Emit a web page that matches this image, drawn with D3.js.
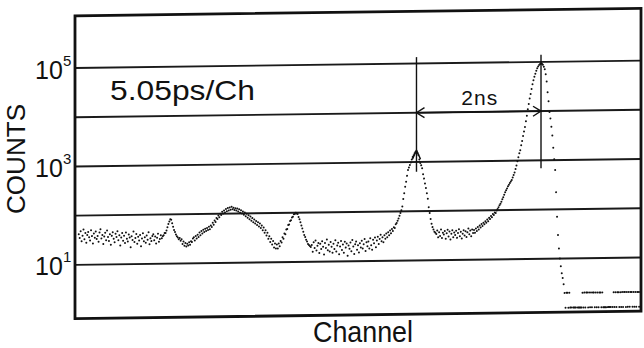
<!DOCTYPE html>
<html>
<head>
<meta charset="utf-8">
<script src="https://cdn.jsdelivr.net/npm/d3@7"></script>
<style>
  body { margin: 0; background: #fff; }
  text { font-family: "Liberation Sans", Arial, sans-serif; fill: #111; }
</style>
</head>
<body>
<div id="chart"></div>
<script>
// counts per channel, one value every 3 channels starting at channel 12
const counts = [
  42,35,48,30,39,52,33,44,28,40, 46,36,31,50,38,27,43,35,47,33,
  38,29,45,52,34,40,26,37,44,31, 49,36,30,41,25,38,45,33,28,42,
  36,47,31,39,24,35,43,30,38,27, 44,33,29,40,35,22,37,31,46,28,
  34,41,26,36,30,39,23,33,42,29, 35,27,38,31,44,25,33,29,37,40,
  30,36,26,34,41,28,32,38,33,36,38,42,
  42,47,55,64,72,80,78,66,56,48, 44,39,36,34,31,33,29,31,25,28,
  23,26,22,25,23,27,24,28,27,32,
  34,29,36,32,38,34,42,37,45,40, 48,43,50,45,52,47,55,49,58,54,
  66,60,73,68,82,78,92,85,100,94, 110,101,116,106,124,112,130,116,134,120,
  138,122,132,118,128,115,126,110,122,104, 116,100,110,94,104,88,98,82,92,76,
  86,71,80,66,75,62,70,58,66,54, 62,50,56,45,51,40,45,35,40,30,
  34,26,30,23,27,20,24,19,23,19, 24,21,27,25,32,30,38,37,46,47,
  57,58,68,71,80,83,93,94,100,97, 94,82,74,64,55,48,41,35,32,28,
  26,23,22,21,20,
  22,16,25,19,27,17,21,24,15,23, 18,26,20,14,24,19,28,17,22,16,
  25,20,15,23,18,27,16,21,24,14, 20,26,17,22,15,25,19,23,13,21,
  18,24,16,27,20,14,22,25,17,21, 15,23,19,26,18,22,28,16,24,20,
  25,18,29,21,17,27,23,30,19,26, 31,22,28,34,25,30,24,33,28,36,
  30,38,33,41,36,44,40,48,46,55, 58,65,72,82,
  93,105,126,178,234,316,398,525,692,776, 871,977,1122,1259,1380,1514,1622,1660,1514,1380,
  1122,955,851,741,562,457,363,295,229,178, 120,91,69,55,47,42,38,36,
  34,40,29,37,31,42,28,36,33,39, 27,35,41,30,38,26,34,40,29,36,
  32,39,28,35,42,30,37,27,34,40, 31,38,29,36,43,33,39,30,41,35,
  40,35,43,38,46,41,49,45,53,48, 56,52,60,56,65,60,70,66,76,72,
  84,80,90,88,98,
  105,115,126,135,148,166,182,204,229,251, 275,302,324,355,380,407,457,513,575,676,
  794,977,1175,1413,1622,2042,2512,3162,3890,4786, 6310,8128,10960,14125,18200,22390,28180,35480,42660,50120,
  57540,66070,74130,81280,87100,91200,93330,91200,87100,79430, 70790,56230,39810,23990,15850,9550,7080,4790,3160,1780,
  1050,630,224,71,30,16,10,7,5,4,3,
  2,1,2,2,1,2,
  1,1,0,1,1,1,1,0,1,1,1,1,1,
  2,1,2,1,2,2,1,2,1,2,1,2,2,1,2,1,2,1,2,2,1,2,1,
  1,1,1,0,1,1,1,1,0,1,
  2,1,2,1,2,2,1,2,1,2,1,2,2,1,2,1,2,1,2,2,1,2,1,2,1,2,2,1,2
]
const channels = counts.map((c, i) => 12 + 3 * i)

const gridCounts = [1e1, 1e2, 1e3, 1e4, 1e5]
const labelCounts = [1e1, 1e3, 1e5]
const labelExps = ["1", "3", "5"]

// peak markers: channel, top and bottom of marker line
const peakChannels = [1086, 1482]
const peakCounts = [1660, 93330]
const markTop = [1.35e5, 1.4e5]
const markBottom = [630, 690]
const spanCount = 1e4
const spanLabel = "2ns"
const calLabel = "5.05ps/Ch"

let W = 644, H = 348,
    svg = d3.select("#chart").append("svg")
            .attr("width", W)
            .attr("height", H),
    x = d3.scaleLinear().domain([0, 1800]).range([75, 641]),
    y = d3.scaleLog().domain([0.81, 1.15e6]).range([314.9, 12.1])

// the scanned sheet is a little slanted
let cx = 358, slant = -0.75
let skewDy = (px) => (px - cx) * Math.tan(slant * Math.PI / 180)
let plot = svg.append("g")
    .attr("transform", `translate(${cx},0) skewY(${slant}) translate(${-cx},0)`)

plot.append("g").selectAll("line")
    .data(gridCounts)
    .join("line")
    .attr("x1", x.range()[0]).attr("x2", x.range()[1])
    .attr("y1", d => y(d)).attr("y2", d => y(d))
    .attr("stroke", "#1a1a1a").attr("stroke-width", 1.9)

plot.append("rect")
    .attr("x", x.range()[0]).attr("y", y.range()[1])
    .attr("width", x.range()[1] - x.range()[0])
    .attr("height", y.range()[0] - y.range()[1])
    .attr("fill", "none").attr("stroke", "#111").attr("stroke-width", 2.8)

let pts = channels.map((ch, i) => ({ ch: ch, c: counts[i] })).filter(d => d.c > 0)
plot.append("g").selectAll("circle")
    .data(pts)
    .join("circle")
    .attr("cx", d => x(d.ch))
    .attr("cy", d => y(d.c))
    .attr("r", 1)
    .attr("fill", "#111")

// peak marker lines
let ann = plot.append("g").attr("stroke", "#111").attr("fill", "none").attr("stroke-width", 1.4)
ann.selectAll("line.mark")
    .data(peakChannels)
    .join("line")
    .attr("class", "mark")
    .attr("x1", d => x(d)).attr("x2", d => x(d))
    .attr("y1", (d, i) => y(markTop[i])).attr("y2", (d, i) => y(markBottom[i]))

// arrow tip on the small peak
let px0 = x(peakChannels[0]), py0 = y(peakCounts[0]) - 1
ann.append("path").attr("d", `M${px0 - 4},${py0 + 9}L${px0},${py0}L${px0 + 4},${py0 + 9}`)

// double arrow between peaks
let xa = x(peakChannels[0]), xb = x(peakChannels[1]), ys = y(spanCount)
ann.append("line").attr("x1", xa).attr("x2", xb).attr("y1", ys).attr("y2", ys)
ann.append("path").attr("d", `M${xa + 8},${ys - 5}L${xa},${ys}L${xa + 8},${ys + 5}`)
ann.append("path").attr("d", `M${xb - 8},${ys - 5}L${xb},${ys}L${xb - 8},${ys + 5}`)

svg.append("text")
    .attr("x", (xa + xb) / 2 + 1).attr("y", ys + skewDy((xa + xb) / 2) - 7)
    .attr("text-anchor", "middle")
    .attr("font-size", 21).attr("letter-spacing", 1)
    .text(spanLabel)

svg.append("text")
    .attr("x", 110).attr("y", 100)
    .attr("font-size", 28)
    .attr("textLength", 145).attr("lengthAdjust", "spacingAndGlyphs")
    .text(calLabel)

// y labels 10^n
let lab = svg.append("g").selectAll("g")
    .data(labelCounts)
    .join("g")
lab.append("text")
    .attr("x", 35).attr("y", d => y(d) + skewDy(75) + 10.5)
    .attr("font-size", 25)
    .text("10")
lab.append("text")
    .attr("x", 63).attr("y", d => y(d) + skewDy(75) - 2.5)
    .attr("font-size", 15)
    .text((d, i) => labelExps[i])

svg.append("text")
    .attr("transform", "translate(25,159) rotate(-90)")
    .attr("text-anchor", "middle")
    .attr("font-size", 25)
    .attr("textLength", 110).attr("lengthAdjust", "spacingAndGlyphs")
    .text("COUNTS")

svg.append("text")
    .attr("x", 363).attr("y", 342)
    .attr("text-anchor", "middle")
    .attr("font-size", 29)
    .attr("textLength", 100).attr("lengthAdjust", "spacingAndGlyphs")
    .text("Channel")
</script>
</body>
</html>
